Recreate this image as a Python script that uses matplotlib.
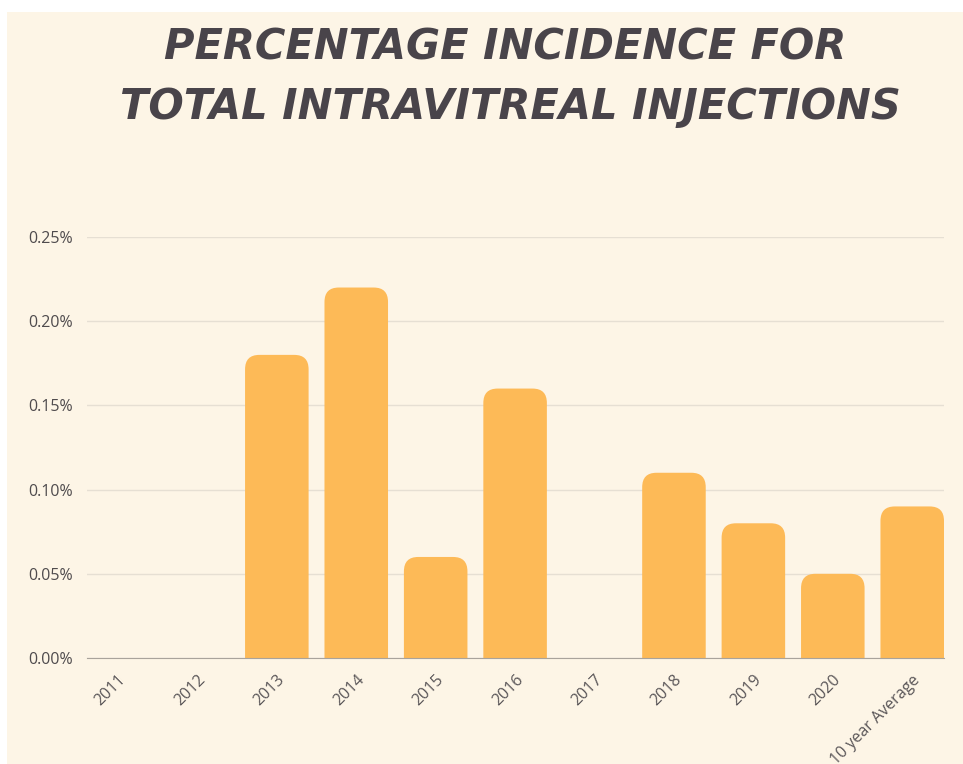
import matplotlib
matplotlib.use("Agg")
import matplotlib.pyplot as plt
import matplotlib.transforms as mtransforms
from matplotlib.patches import FancyBboxPatch, Rectangle

# data (percent)
categories = ["2011", "2012", "2013", "2014", "2015", "2016", "2017",
              "2018", "2019", "2020", "10 year Average"]
incidence = [0.0, 0.0, 0.18, 0.22, 0.06, 0.16, 0.0, 0.11, 0.08, 0.05, 0.09]
y_ticks = [0.0, 0.05, 0.10, 0.15, 0.20, 0.25]

BG = "#fdf5e6"
BAR = "#fdba57"
TXT = "#49444a"

fig = plt.figure(figsize=(9.63, 7.64), dpi=100, facecolor="white")
# cream card, with a thin white border top and left
fig.patches.append(Rectangle((7 / 963, 0), 1, (764 - 12) / 764,
                             transform=fig.transFigure, facecolor=BG,
                             edgecolor="none", zorder=-10))

ax = fig.add_axes([87 / 963, 106 / 764, (944 - 87) / 963, 421 / 764])
ax.set_facecolor("none")
ax.set_zorder(1)

ax.set_xlim(-0.39, 10.4)
ax.set_ylim(0, 0.25)

w = 0.8
r = 0.18
for i, v in enumerate(incidence):
    if v <= 0:
        continue
    # rounded top, bottom hidden below the axis
    p = FancyBboxPatch((i - w / 2, -0.02), w, v + 0.02,
                       boxstyle="round,pad=0,rounding_size=%s" % r,
                       mutation_aspect=0.0475,
                       facecolor=BAR, edgecolor="none", zorder=3)
    ax.add_patch(p)

ax.set_yticks(y_ticks)
ax.set_yticklabels(["%.2f%%" % t for t in y_ticks])
ax.grid(axis="y", color="#e6dfd3", linewidth=1, zorder=0)
ax.set_axisbelow(True)

ax.set_xticks(range(len(categories)))
ax.set_xticklabels(categories, rotation=45, ha="right", rotation_mode="anchor")
offset = mtransforms.ScaledTranslation(12 / 100, 0, fig.dpi_scale_trans)
for lab in ax.get_xticklabels():
    lab.set_transform(lab.get_transform() + offset)

for s in ["top", "right", "left"]:
    ax.spines[s].set_visible(False)
ax.spines["bottom"].set_color("#a9a39b")
ax.spines["bottom"].set_zorder(4)
ax.tick_params(length=0, labelsize=11.5, labelcolor="#4f4b4d", pad=10)
ax.tick_params(axis="x", labelcolor="#5a5658")
for lab in ax.get_yticklabels() + ax.get_xticklabels():
    lab.set_fontfamily("Open Sans")

fig.text(0.525, 0.938, "PERCENTAGE INCIDENCE FOR", ha="center", va="center",
         fontsize=30, fontweight="bold", fontstyle="italic", color=TXT,
         family="DejaVu Sans")
fig.text(0.53, 0.86, "TOTAL INTRAVITREAL INJECTIONS", ha="center", va="center",
         fontsize=30, fontweight="bold", fontstyle="italic", color=TXT,
         family="DejaVu Sans")

fig.savefig("out.png", dpi=100, facecolor="white")
